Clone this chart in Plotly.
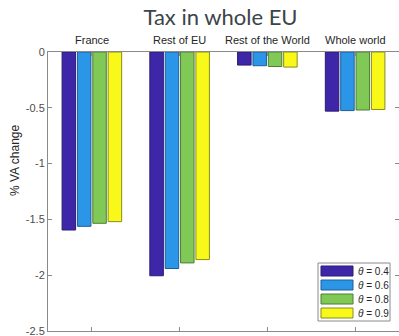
import plotly.graph_objects as go

# Regions and theta scenarios
regions = ["France", "Rest of EU", "Rest of the World", "Whole world"]
thetas = ["0.4", "0.6", "0.8", "0.9"]

# % change of value added per region, one list per theta
va_t04 = [-1.595, -2.005, -0.117, -0.530]
va_t06 = [-1.562, -1.940, -0.123, -0.525]
va_t08 = [-1.535, -1.890, -0.130, -0.520]
va_t09 = [-1.520, -1.860, -0.135, -0.515]
series = [va_t04, va_t06, va_t08, va_t09]

colors = ["#3e26a8", "#2b95e8", "#80c956", "#f9f919"]
edges = ["#2a1c6e", "#1f5f96", "#4f7d36", "#8a8a22"]

yticks = [0, -0.5, -1, -1.5, -2, -2.5]
ytick_text = ["0", "-0.5", "-1", "-1.5", "-2", "-2.5"]

xpos = list(range(1, len(regions) + 1))

fig = go.Figure()
for vals, th, col, ec in zip(series, thetas, colors, edges):
    fig.add_trace(go.Bar(
        x=xpos, y=vals, name="θ = " + th,
        marker=dict(color=col, line=dict(color=ec, width=1)),
        showlegend=False,
    ))

# geometry of the plotting area (pixels)
W, H = 399, 336
L, R, T, B = 48, 0, 52, 5
pw, ph = W - L - R, H - T - B


def px_x(px):
    return (px - L) / pw


def px_y(py):
    return (H - B - py) / ph


axis_col = "#8a8a8a"
fig.update_layout(
    width=W, height=H,
    margin=dict(l=L, r=R, t=T, b=B),
    paper_bgcolor="white", plot_bgcolor="white",
    barmode="group", bargap=0.3, bargroupgap=0.12,
    font=dict(family="Liberation Sans, Arial, sans-serif", size=11, color="#4d4d4d"),
    title=dict(text="Tax in whole EU", x=220.5 / W, xref="container", xanchor="center",
               y=1 - 17 / H, yref="container", yanchor="middle",
               font=dict(family="Lato, sans-serif", size=22, color="#3b4549")),
    xaxis=dict(range=[0.5, 4.5], tickvals=xpos, ticktext=["", "", "", ""],
               ticks="inside", ticklen=4, tickcolor=axis_col,
               showline=True, linecolor=axis_col, linewidth=1, mirror="ticks",
               showgrid=False, zeroline=False),
    yaxis=dict(range=[-2.5, 0], tickvals=yticks, ticktext=ytick_text,
               ticks="inside", ticklen=4, tickcolor=axis_col,
               showline=True, linecolor=axis_col, linewidth=1, mirror="ticks",
               showgrid=False, zeroline=False, ticklabeloverflow="allow",
               tickfont=dict(size=11, color="#4d4d4d")),
)

# region names above each group
for xi, name in zip(xpos, regions):
    fig.add_annotation(x=xi, y=px_y(40), xref="x", yref="paper", text=name,
                       showarrow=False, font=dict(size=11, color="#262626"),
                       xanchor="center", yanchor="middle")

# y-axis label
fig.add_annotation(x=px_x(15), y=px_y(161), xref="paper", yref="paper",
                   text="% VA change", textangle=-90, showarrow=False,
                   font=dict(size=12, color="#262626"),
                   xanchor="center", yanchor="middle")

# legend box with wide colour patches
fig.add_shape(type="rect", xref="paper", yref="paper",
              x0=px_x(318), x1=px_x(390), y0=px_y(321), y1=px_y(263),
              line=dict(color="#8a8a8a", width=1), fillcolor="white")
row_y = [271, 285, 299, 313]
for ry, th, col, ec in zip(row_y, thetas, colors, edges):
    fig.add_shape(type="rect", xref="paper", yref="paper",
                  x0=px_x(321), x1=px_x(353), y0=px_y(ry + 5), y1=px_y(ry - 5),
                  line=dict(color=ec, width=1), fillcolor=col)
    fig.add_annotation(x=px_x(356), y=px_y(ry), xref="paper", yref="paper",
                       text="<i>θ</i> = " + th, showarrow=False,
                       font=dict(size=10, color="#262626"),
                       xanchor="left", yanchor="middle")

fig.write_html("out.html")
